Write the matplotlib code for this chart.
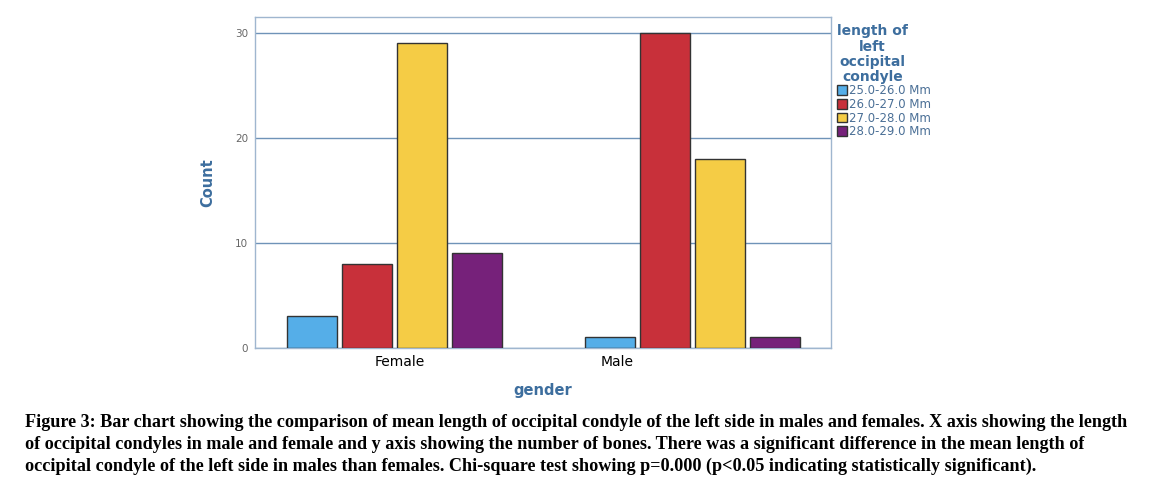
import matplotlib.pyplot as plt
import numpy as np

# data
genders = ["Female", "Male"]
ranges = ["25.0-26.0", "26.0-27.0", "27.0-28.0", "28.0-29.0"]
counts = {
    "25.0-26.0": [3, 1],
    "26.0-27.0": [8, 30],
    "27.0-28.0": [29, 18],
    "28.0-29.0": [9, 1],
}
colors = ["#55aee8", "#c8303a", "#f5cc45", "#76217a"]

caption = ("Figure 3: Bar chart showing the comparison of mean length of occipital condyle of the left side in males and females. X axis showing the length\n"
           "of occipital condyles in male and female and y axis showing the number of bones. There was a significant difference in the mean length of\n"
           "occipital condyle of the left side in males than females. Chi-square test showing p=0.000 (p<0.05 indicating statistically significant).")

blue_txt = "#3d6e9e"
line_col = "#6f93b8"

fig = plt.figure(figsize=(11.57, 4.84), dpi=100)
ax = fig.add_axes([0.2204, 0.281, 0.4978, 0.684])

x = np.arange(len(genders))
w = 0.168
step = 0.185
handles = []
for i, r in enumerate(ranges):
    b = ax.bar(x + (i - 1.5) * step, counts[r], width=w, color=colors[i],
               edgecolor="#333333", linewidth=1.0, zorder=3, label=r + " Mm")
    handles.append(b)

ax.set_xlim(-0.47, 1.466)
ax.set_ylim(0, 31.5)
ax.set_yticks([0, 10, 20, 30])
ax.yaxis.grid(True, color=line_col, linewidth=1.0, zorder=0)
ax.set_xticks([0.017, 0.746])
ax.set_xticklabels(genders, fontsize=10, color="black")
ax.tick_params(axis="x", length=0, pad=5)
ax.tick_params(axis="y", length=0, labelsize=7.5, labelcolor="#666666", pad=5)
for s in ax.spines.values():
    s.set_color("#9fb6cf")
    s.set_linewidth(1.0)

ax.set_ylabel("Count", fontsize=10.5, fontweight="bold", color=blue_txt, labelpad=14)
ax.set_xlabel("gender", fontsize=10.5, fontweight="bold", color=blue_txt, labelpad=10)

leg = ax.legend(handles=handles, loc="upper left", bbox_to_anchor=(1.0, 0.995),
                frameon=False, fontsize=8.5, title="length of\nleft\noccipital\ncondyle",
                title_fontproperties={"weight": "bold", "size": 10},
                handlelength=0.9, handleheight=0.9, handletextpad=0.1,
                labelspacing=0.05, borderpad=0.2, borderaxespad=0.3)
leg.get_title().set_color(blue_txt)
leg.get_title().set_multialignment("center")
leg.get_title().set_linespacing(1.1)
leg._legend_box.align = "left"
for t in leg.get_texts():
    t.set_color("#4a6f96")

fig.text(0.022, 0.145, caption, fontsize=13.05, fontweight="bold",
         family="Liberation Serif", va="top", ha="left", linespacing=1.37)

fig.savefig("out.png", dpi=100)
